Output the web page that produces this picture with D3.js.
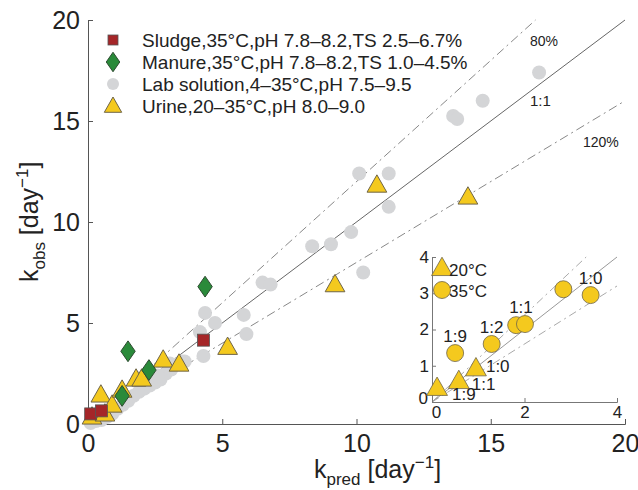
<!DOCTYPE html>
<html>
<head>
<meta charset="utf-8">
<script src="https://cdn.jsdelivr.net/npm/d3@7"></script>
<style>
  body { margin: 0; background: #fff; }
  text { font-family: "Liberation Sans", Arial, sans-serif; fill: #222; }
</style>
</head>
<body>
<svg id="chart"></svg>
<script>
var width = 638,
    height = 490;

// main data [kpred, kobs]
var sludge = [[0.1, 0.5], [0.5, 0.65], [4.3, 4.15]];
var manure = [[1.27, 1.39], [1.49, 3.6], [2.27, 2.67], [4.36, 6.8]];
var lab = [[0.1, 0.05], [0.3, 0.15], [0.5, 0.2], [0.7, 0.35], [0.9, 0.5], [1.1, 0.75],
  [1.3, 0.95], [1.5, 1.15], [1.7, 1.4], [1.9, 1.6], [2.1, 1.75], [2.3, 1.9], [2.5, 2.05],
  [2.7, 2.2], [2.9, 2.5], [3.1, 2.7], [3.3, 2.95], [3.6, 3.1], [1.86, 2.27], [2.3, 2.3],
  [2.6, 2.4], [3.05, 3.0], [3.5, 3.1], [4.3, 3.37], [4.17, 4.55], [5.9, 4.45], [4.73, 5.0],
  [4.36, 5.5], [5.8, 5.4], [6.5, 7.0], [6.8, 6.9], [8.35, 8.8], [9.05, 8.9], [9.8, 9.5],
  [10.25, 7.5], [11.2, 10.75], [10.1, 12.4], [11.2, 12.4], [13.6, 15.25], [13.75, 15.1],
  [14.7, 16.0], [16.8, 17.4]];
var urine = [[0.15, 0.35], [0.63, 0.5], [0.48, 1.44], [0.9, 0.94], [1.27, 1.68], [1.79, 2.23],
  [2.0, 2.23], [2.8, 3.17], [3.39, 2.97], [5.2, 3.8], [9.2, 6.9], [10.76, 11.83], [14.15, 11.24]];

var legendLabels = ['Sludge,35°C,pH 7.8–8.2,TS 2.5–6.7%', 'Manure,35°C,pH 7.8–8.2,TS 1.0–4.5%',
  'Lab solution,4–35°C,pH 7.5–9.5', 'Urine,20–35°C,pH 8.0–9.0'];
var mainTicks = [0, 5, 10, 15, 20];
var slopes = [1.2, 1, 0.8];
var lineLabels = ['80%', '1:1', '120%'];

// inset data: urine dilution ratios
var inset20 = [[0.11, 0.39, '1:9'], [0.58, 0.58, '1:1'], [0.95, 0.93, '1:0']];
var inset35 = [[0.5, 1.35, '1:9'], [1.29, 1.6, '1:2'], [1.82, 2.12, ''], [2.01, 2.15, '1:1'],
  [2.84, 3.11, ''], [3.43, 2.95, '1:0']];
var insetXTicks = [0, 2, 4];
var insetYTicks = [0, 1, 2, 3, 4];

// label nudges for the 20°C triangles, px
var tri20Offsets = [[15, 12], [13, 9], [10, 4]];

var svg = d3.select('#chart').attr('width', width).attr('height', height);

var x = d3.scaleLinear().domain([0, 20]).range([88, 625]);
var y = d3.scaleLinear().domain([0, 20]).range([424, 20]);

// reference lines
svg.selectAll('.ref')
  .data(slopes)
  .enter().append('line')
  .attr('x1', x(0)).attr('y1', y(0))
  .attr('x2', function(d) { return x(Math.min(20, 20 / d)); })
  .attr('y2', function(d) { return y(Math.min(20, 20 * d)); })
  .attr('stroke', function(d) { return d == 1 ? '#666' : '#888'; })
  .attr('stroke-width', 1)
  .attr('stroke-dasharray', function(d) { return d == 1 ? null : '9,4,2,4'; });

svg.append('text').text(lineLabels[0]).attr('x', 530).attr('y', 46).attr('font-size', 14);
svg.append('text').text(lineLabels[1]).attr('x', 530).attr('y', 106).attr('font-size', 15);
svg.append('text').text(lineLabels[2]).attr('x', 583).attr('y', 147).attr('font-size', 14);

// axes
var xAxis = svg.append('g').attr('transform', 'translate(0,' + y(0) + ')')
  .call(d3.axisBottom(x).tickValues(mainTicks).tickSize(-5).tickPadding(10));
var yAxis = svg.append('g').attr('transform', 'translate(' + x(0) + ',0)')
  .call(d3.axisLeft(y).tickValues(mainTicks).tickSize(-5).tickPadding(8));
[xAxis, yAxis].forEach(function(g) {
  g.select('.domain').attr('stroke', '#555');
  g.selectAll('.tick line').attr('stroke', '#555');
  g.selectAll('.tick text').attr('font-size', 25).attr('font-family', 'Liberation Sans').attr('fill', '#222');
});

// markers
function tri(s) { return 'M0,' + (-s * 0.6) + 'L' + (s * 0.58) + ',' + (s * 0.42) + 'L' + (-s * 0.58) + ',' + (s * 0.42) + 'Z'; }
function dia(s) { return 'M0,' + (-s * 0.65) + 'L' + (s * 0.45) + ',0L0,' + (s * 0.65) + 'L' + (-s * 0.45) + ',0Z'; }

svg.selectAll('.lab')
  .data(lab)
  .enter().append('circle')
  .attr('cx', function(d) { return x(d[0]); })
  .attr('cy', function(d) { return y(d[1]); })
  .attr('r', 7)
  .attr('fill', '#d4d5d7');

svg.selectAll('.urine')
  .data(urine)
  .enter().append('path')
  .attr('d', tri(17))
  .attr('transform', function(d) { return 'translate(' + x(d[0]) + ',' + y(d[1]) + ')'; })
  .attr('fill', '#f4c91e')
  .attr('stroke', '#6e6448')
  .attr('stroke-width', 1);

svg.selectAll('.manure')
  .data(manure)
  .enter().append('path')
  .attr('d', dia(16))
  .attr('transform', function(d) { return 'translate(' + x(d[0]) + ',' + y(d[1]) + ')'; })
  .attr('fill', '#2a8a3a')
  .attr('stroke', '#2d4a30')
  .attr('stroke-width', 1);

svg.selectAll('.sludge')
  .data(sludge)
  .enter().append('rect')
  .attr('x', function(d) { return x(d[0]) - 6; })
  .attr('y', function(d) { return y(d[1]) - 6; })
  .attr('width', 12).attr('height', 12)
  .attr('fill', '#a52628')
  .attr('stroke', '#555')
  .attr('stroke-width', 0.8);

// legend
var legend = svg.selectAll('.legend')
  .data(legendLabels)
  .enter().append('g')
  .attr('transform', function(d, i) { return 'translate(113,' + (40 + i * 22) + ')'; });
legend.append('text')
  .text(function(d) { return d; })
  .attr('x', 29).attr('y', 7)
  .attr('font-size', 19);
legend.each(function(d, i) {
  var g = d3.select(this);
  if (i == 0) g.append('rect').attr('x', -5).attr('y', -5).attr('width', 10).attr('height', 10)
    .attr('fill', '#a52628').attr('stroke', '#555').attr('stroke-width', 0.8);
  if (i == 1) g.append('path').attr('d', dia(15)).attr('fill', '#2a8a3a').attr('stroke', '#2d4a30');
  if (i == 2) g.append('circle').attr('r', 6).attr('fill', '#d4d5d7');
  if (i == 3) g.append('path').attr('d', tri(15)).attr('fill', '#f4c91e').attr('stroke', '#6e6448');
});

// axis titles
var xt = svg.append('text').attr('x', 314).attr('y', 478).attr('font-size', 25);
xt.append('tspan').text('k');
xt.append('tspan').text('pred').attr('font-size', 17).attr('dy', 7);
xt.append('tspan').text(' [day').attr('dy', -7);
xt.append('tspan').text('−1').attr('font-size', 17).attr('dy', -10);
xt.append('tspan').text(']').attr('dy', 10);

var yt = svg.append('text').attr('transform', 'translate(38,282) rotate(-90)').attr('font-size', 25);
yt.append('tspan').text('k');
yt.append('tspan').text('obs').attr('font-size', 17).attr('dy', 7);
yt.append('tspan').text(' [day').attr('dy', -7);
yt.append('tspan').text('−1').attr('font-size', 17).attr('dy', -10);
yt.append('tspan').text(']').attr('dy', 10);

// inset
var xi = d3.scaleLinear().domain([0, 4]).range([432, 617]);
var yi = d3.scaleLinear().domain([0, 4]).range([402, 257]);

svg.selectAll('.iref')
  .data(slopes)
  .enter().append('line')
  .attr('x1', xi(0)).attr('y1', yi(0))
  .attr('x2', function(d) { return xi(Math.min(4, 4 / d)); })
  .attr('y2', function(d) { return yi(Math.min(4, 4 * d)); })
  .attr('stroke', function(d) { return d == 1 ? '#999' : '#aaa'; })
  .attr('stroke-width', 1)
  .attr('stroke-dasharray', function(d) { return d == 1 ? null : '8,4,2,4'; });

var xiAxis = svg.append('g').attr('transform', 'translate(0,' + yi(0) + ')')
  .call(d3.axisBottom(xi).tickValues(insetXTicks).tickFormat(d3.format('d')).tickSize(-4).tickPadding(4));
var yiAxis = svg.append('g').attr('transform', 'translate(' + xi(0) + ',0)')
  .call(d3.axisLeft(yi).tickValues(insetYTicks).tickFormat(d3.format('d')).tickSize(-4).tickPadding(3));
[xiAxis, yiAxis].forEach(function(g) {
  g.select('.domain').attr('stroke', '#777');
  g.selectAll('.tick line').attr('stroke', '#777');
  g.selectAll('.tick text').attr('font-size', 17).attr('font-family', 'Liberation Sans').attr('fill', '#222');
});
yiAxis.selectAll('.tick text').filter(function(d) { return d == 0; }).attr('dy', '0.1em').attr('x', -4);
xiAxis.selectAll('.tick text').filter(function(d) { return d == 0; }).attr('x', 4);

svg.selectAll('.i35')
  .data(inset35)
  .enter().append('circle')
  .attr('cx', function(d) { return xi(d[0]); })
  .attr('cy', function(d) { return yi(d[1]); })
  .attr('r', 8.5)
  .attr('fill', '#f4c91e')
  .attr('stroke', '#6e6448')
  .attr('stroke-width', 0.8);

svg.selectAll('.i20')
  .data(inset20)
  .enter().append('path')
  .attr('d', tri(18))
  .attr('transform', function(d) { return 'translate(' + xi(d[0]) + ',' + yi(d[1]) + ')'; })
  .attr('fill', '#f4c91e')
  .attr('stroke', '#6e6448')
  .attr('stroke-width', 0.8);

svg.selectAll('.l20')
  .data(inset20)
  .enter().append('text')
  .text(function(d) { return d[2]; })
  .attr('x', function(d, i) { return xi(d[0]) + tri20Offsets[i][0]; })
  .attr('y', function(d, i) { return yi(d[1]) + tri20Offsets[i][1]; })
  .attr('font-size', 17);

svg.selectAll('.l35')
  .data(inset35)
  .enter().append('text')
  .text(function(d) { return d[2]; })
  .attr('x', function(d) { return xi(d[0]) - (d[2] == '1:1' ? 4 : 0); })
  .attr('y', function(d) { return yi(d[1]) - 11; })
  .attr('text-anchor', 'middle')
  .attr('font-size', 17);

svg.append('path').attr('d', tri(18)).attr('transform', 'translate(442,268)')
  .attr('fill', '#f4c91e').attr('stroke', '#6e6448').attr('stroke-width', 0.8);
svg.append('text').text('20°C').attr('x', 449).attr('y', 276).attr('font-size', 17);
svg.append('circle').attr('cx', 442).attr('cy', 290).attr('r', 8.5)
  .attr('fill', '#f4c91e').attr('stroke', '#6e6448').attr('stroke-width', 0.8);
svg.append('text').text('35°C').attr('x', 449).attr('y', 297).attr('font-size', 17);
</script>
</body>
</html>
